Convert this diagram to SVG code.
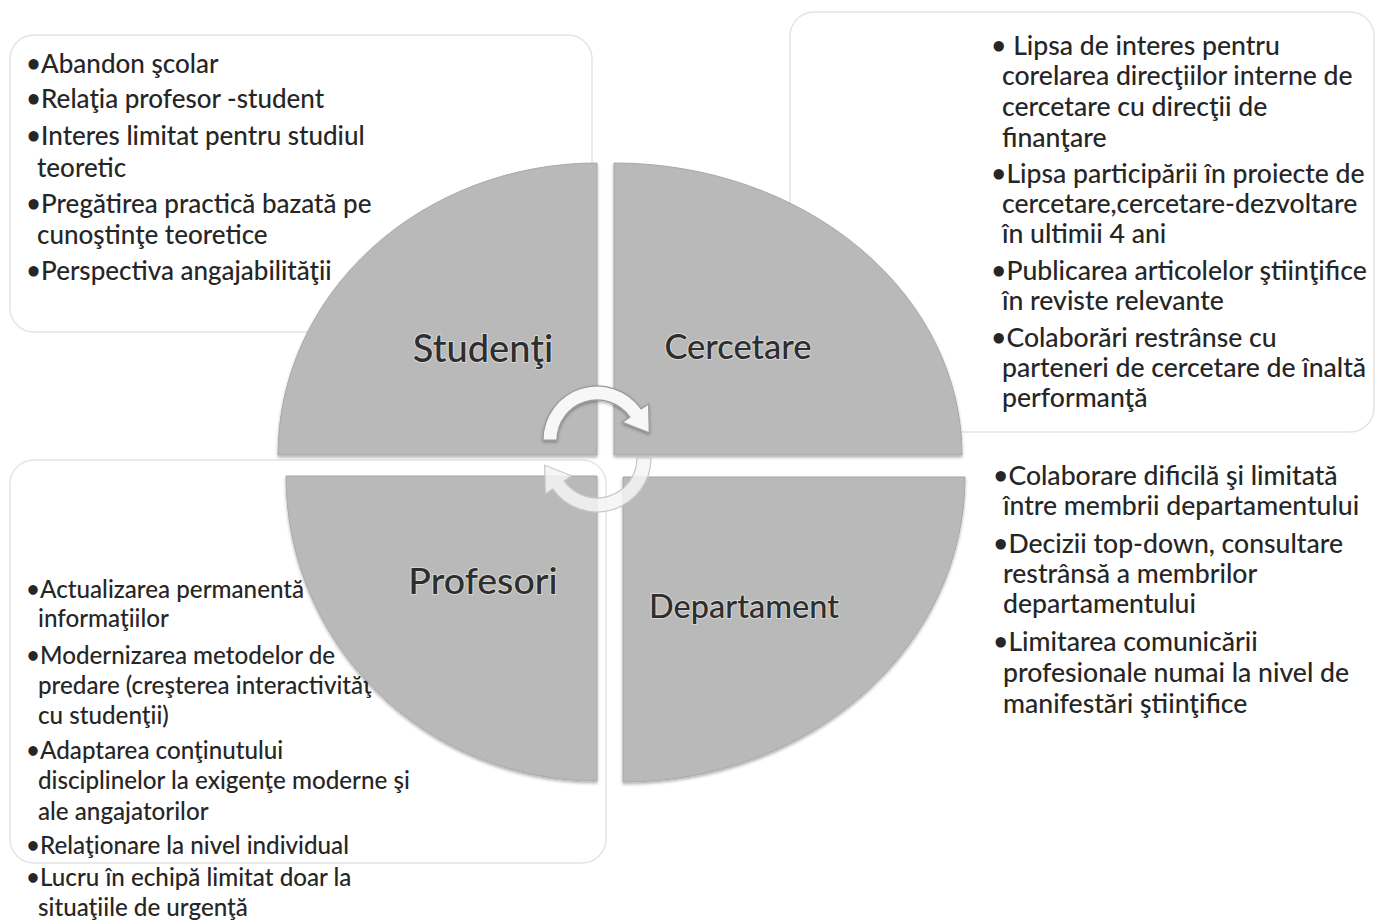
<svg xmlns="http://www.w3.org/2000/svg" width="1384" height="923" viewBox="0 0 1384 923">
<defs>
<style>
.box{fill:#ffffff;stroke:#e4e4e4;stroke-width:1.5}
.bt{font-family:Lato,"Open Sans","Liberation Sans",sans-serif;font-weight:500;fill:#262626}
.tl{font-size:26px}
.tr{font-size:26.6px}
.bl{font-size:24.2px}
.br{font-size:26.6px}
.q{fill:#b9b9b9;stroke:#a8a8a8;stroke-width:1}
.lbl{font-family:Lato,"Open Sans","Liberation Sans",sans-serif;font-weight:500;fill:#2e2e2e;text-anchor:middle;stroke:#e6e6e6;stroke-width:2;stroke-opacity:0.7;paint-order:stroke}
.arw{fill:#f7f7f7;stroke:#9a9a9a;stroke-width:1.2}
.arw2{fill:#f4f4f4;fill-opacity:0.85;stroke:#c6c6c6;stroke-width:1.2}
</style>
<filter id="sh" x="-5%" y="-5%" width="110%" height="115%">
<feDropShadow dx="0" dy="2" stdDeviation="1.6" flood-color="#000" flood-opacity="0.3"/>
</filter>
<filter id="sh2" x="-20%" y="-20%" width="140%" height="140%">
<feDropShadow dx="0" dy="1.5" stdDeviation="1.5" flood-color="#000" flood-opacity="0.35"/>
</filter>
</defs>
<rect width="1384" height="923" fill="#ffffff"/>

<g id="box-studenti">
<rect class="box" x="10" y="35" width="582" height="297" rx="24"/>
<text class="bt tl"><tspan x="26" y="73">•Abandon şcolar</tspan><tspan x="26" y="108">•Relaţia profesor -student</tspan><tspan x="26" y="145">•Interes limitat pentru studiul</tspan><tspan x="37" y="177">teoretic</tspan><tspan x="26" y="213">•Pregătirea practică bazată pe</tspan><tspan x="37" y="244">cunoştinţe teoretice</tspan><tspan x="26" y="280">•Perspectiva angajabilităţii</tspan></text>
</g>

<g id="box-cercetare">
<rect class="box" x="790" y="12" width="584" height="420" rx="24"/>
<text class="bt tr"><tspan x="991" y="55">• Lipsa de interes pentru</tspan><tspan x="1002" y="85">corelarea direcţiilor interne de</tspan><tspan x="1002" y="116">cercetare cu direcţii de</tspan><tspan x="1002" y="147">finanţare</tspan><tspan x="991" y="183">•Lipsa participării în proiecte de</tspan><tspan x="1002" y="213">cercetare,cercetare-dezvoltare</tspan><tspan x="1002" y="243">în ultimii 4 ani</tspan><tspan x="991" y="280">•Publicarea articolelor ştiinţifice</tspan><tspan x="1002" y="310">în reviste relevante</tspan><tspan x="991" y="347">•Colaborări restrânse cu</tspan><tspan x="1002" y="377">parteneri de cercetare de înaltă</tspan><tspan x="1002" y="407">performanţă</tspan></text>
</g>

<g id="box-profesori">
<rect class="box" x="10" y="460" width="596" height="403" rx="24"/>
<text class="bt bl"><tspan x="26" y="598">•Actualizarea permanentă</tspan><tspan x="38" y="627">informaţiilor</tspan><tspan x="26" y="664">•Modernizarea metodelor de</tspan><tspan x="38" y="694">predare (creşterea interactivităţ</tspan><tspan x="38" y="724">cu studenţii)</tspan><tspan x="26" y="759">•Adaptarea conţinutului</tspan><tspan x="38" y="789">disciplinelor la exigenţe moderne şi</tspan><tspan x="38" y="820">ale angajatorilor</tspan><tspan x="26" y="854">•Relaţionare la nivel individual</tspan><tspan x="26" y="886">•Lucru în echipă limitat doar la</tspan><tspan x="38" y="916">situaţiile de urgenţă</tspan></text>
</g>

<g id="box-departament">
<text class="bt br"><tspan x="993" y="485">•Colaborare dificilă şi limitată</tspan><tspan x="1003" y="515">între membrii departamentului</tspan><tspan x="993" y="553">•Decizii top-down, consultare</tspan><tspan x="1003" y="583">restrânsă a membrilor</tspan><tspan x="1003" y="613">departamentului</tspan><tspan x="993" y="651">•Limitarea comunicării</tspan><tspan x="1003" y="682">profesionale numai la nivel de</tspan><tspan x="1003" y="713">manifestări ştiinţifice</tspan></text>
</g>

<g id="node-studenti">
<path class="q" filter="url(#sh)" d="M597,455 L278,455 A319,292 0 0,1 597,163 Z"/>
<text class="lbl" x="483" y="362" font-size="38">Studenţi</text>
</g>
<g id="node-cercetare">
<path class="q" filter="url(#sh)" d="M614,455 L614,163 A348,292 0 0,1 962,455 Z"/>
<text class="lbl" x="738" y="359" font-size="34.5">Cercetare</text>
</g>
<g id="node-profesori">
<path class="q" filter="url(#sh)" d="M597,476 L286,476 A311,305 0 0,0 597,781 Z"/>
<text class="lbl" x="483" y="594" font-size="37.5">Profesori</text>
</g>
<g id="node-departament">
<path class="q" filter="url(#sh)" d="M623,477 L965,477 A342,305 0 0,1 623,782 Z"/>
<text class="lbl" x="744" y="618" font-size="32.5">Departament</text>
</g>

<g id="connectors">
<path class="arw" filter="url(#sh2)" d="M543,440 A54,54 0 0,1 641.2,409 L648.6,403.9 L649.3,432.7 L622.4,422.2 L629.8,417.1 A40,40 0 0,0 557,440 Z"/>
<path class="arw2" transform="rotate(180 597 449)" d="M543,440 A54,54 0 0,1 641.2,409 L648.6,403.9 L649.3,432.7 L622.4,422.2 L629.8,417.1 A40,40 0 0,0 557,440 Z"/>
</g>
</svg>
